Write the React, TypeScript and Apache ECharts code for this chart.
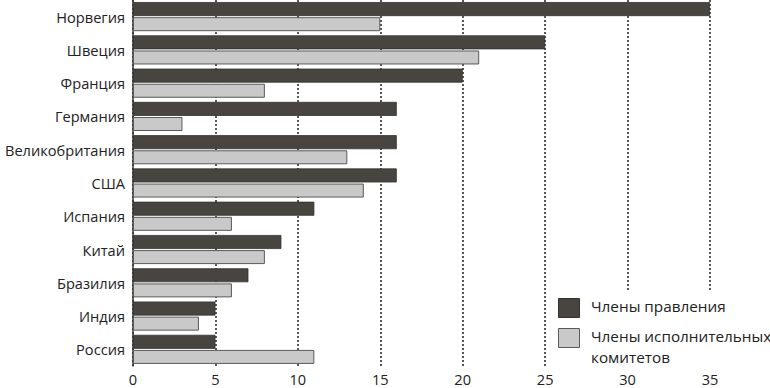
import React, { useEffect, useRef } from "react";
import * as echarts from "echarts";

const countries = [
  "Норвегия",
  "Швеция",
  "Франция",
  "Германия",
  "Великобритания",
  "США",
  "Испания",
  "Китай",
  "Бразилия",
  "Индия",
  "Россия",
];
const boardMembers = [35, 25, 20, 16, 16, 16, 11, 9, 7, 5, 5];
const execMembers = [15, 21, 8, 3, 13, 14, 6, 8, 6, 4, 11];
const xTicks = [0, 5, 10, 15, 20, 25, 30, 35];
const seriesNames = ["Члены правления", "Члены исполнительных\nкомитетов"];

const DARK = "#48443f";
const LIGHT = "#c9c9c9";
const FONT = "'Open Sans', 'Noto Sans', sans-serif";

export default function App() {
  const ref = useRef<HTMLDivElement>(null);
  useEffect(() => {
    if (!ref.current) return;
    const chart = echarts.init(ref.current, undefined, { renderer: "svg" });
    chart.setOption({
      animation: false,
      backgroundColor: "#ffffff",
      grid: { left: 133, right: 60, top: 0, height: 366, containLabel: false },
      xAxis: {
        type: "value",
        min: xTicks[0],
        max: xTicks[xTicks.length - 1],
        interval: 5,
        axisLine: { show: false },
        axisTick: { show: false },
        axisLabel: { color: "#222", fontSize: 14.6, fontFamily: FONT, margin: 5 },
        splitLine: { show: true, lineStyle: { color: "#222", type: [2, 2], width: 1.5 } },
      },
      yAxis: {
        type: "category",
        data: countries,
        inverse: true,
        axisLine: { show: true, lineStyle: { color: "#3a3733", width: 1.5 } },
        axisTick: { show: false },
        axisLabel: { color: "#222", fontSize: 14.6, fontFamily: FONT, margin: 8 },
      },
      series: [
        {
          name: seriesNames[0],
          type: "bar",
          data: boardMembers,
          barWidth: 14,
          barGap: "8%",
          itemStyle: { color: DARK, borderColor: "#35322e", borderWidth: 0.8 },
        },
        {
          name: seriesNames[1],
          type: "bar",
          data: execMembers,
          barWidth: 14,
          itemStyle: { color: LIGHT, borderColor: "#5a5a5a", borderWidth: 1 },
        },
      ],
      graphic: [
        { type: "rect", left: 552, top: 291, z: 10, shape: { width: 218, height: 76 }, style: { fill: "#ffffff" } },
        { type: "rect", left: 558, top: 298, z: 11, shape: { width: 21, height: 19 }, style: { fill: DARK, stroke: "#35322e", lineWidth: 1 } },
        { type: "rect", left: 558, top: 328, z: 11, shape: { width: 21, height: 19 }, style: { fill: LIGHT, stroke: "#5a5a5a", lineWidth: 1 } },
        { type: "text", left: 591, top: 298, z: 11, style: { text: seriesNames[0], fill: "#222", font: `15.3px ${FONT}` } },
        { type: "text", left: 591, top: 325, z: 11, style: { text: seriesNames[1], fill: "#222", font: `15.3px ${FONT}`, lineHeight: 21 } },
      ],
    });
    return () => chart.dispose();
  }, []);
  return <div ref={ref} style={{ width: 770, height: 388, position: "absolute", left: 0, top: 0 }} />;
}
